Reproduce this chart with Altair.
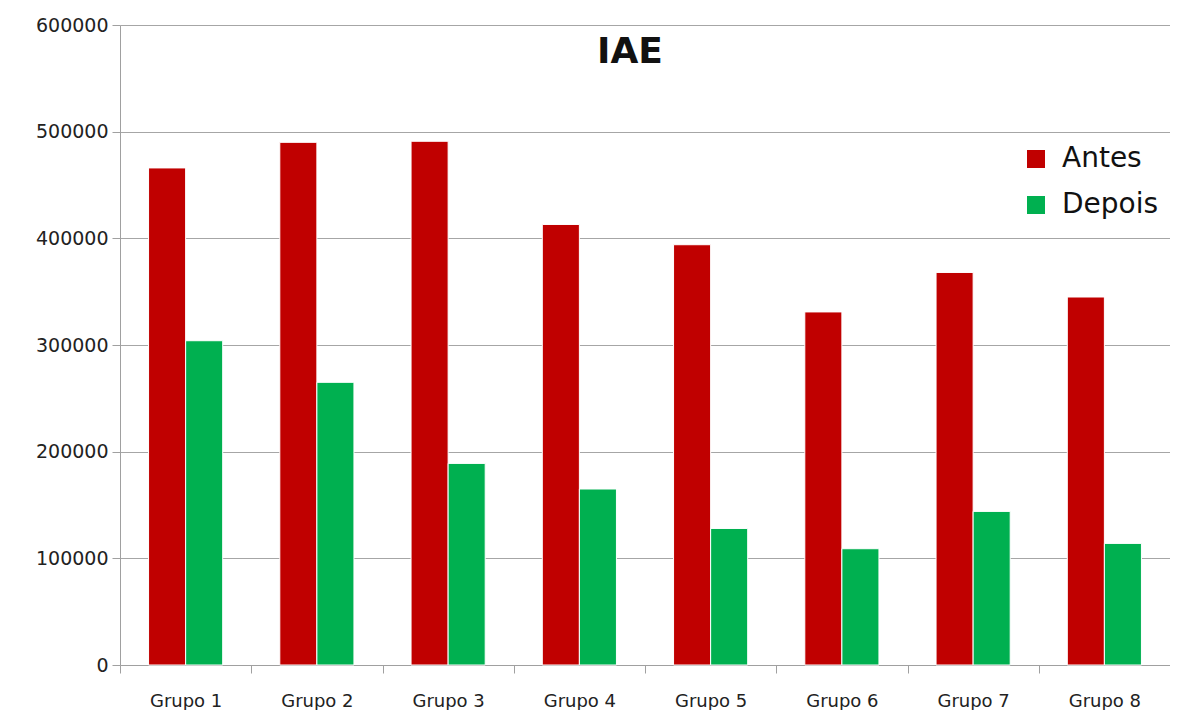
import altair as alt
import pandas as pd

grupos = ["Grupo 1", "Grupo 2", "Grupo 3", "Grupo 4", "Grupo 5", "Grupo 6", "Grupo 7", "Grupo 8"]
antes = [466000, 490000, 491000, 413000, 394000, 331000, 368000, 345000]
depois = [304000, 265000, 189000, 165000, 128000, 109000, 144000, 114000]
series = ["Antes", "Depois"]
cores = ["#C00000", "#00B050"]
y_ticks = [0, 100000, 200000, 300000, 400000, 500000, 600000]

rows = []
for g, a, d in zip(grupos, antes, depois):
    rows.append({"grupo": g, "serie": "Antes", "valor": a})
    rows.append({"grupo": g, "serie": "Depois", "valor": d})
df = pd.DataFrame(rows)

FONT = "DejaVu Sans"

bars = alt.Chart(df).mark_bar(stroke="white", strokeWidth=1).encode(
    x=alt.X("grupo:N", sort=grupos, title=None,
            scale=alt.Scale(paddingInner=0, paddingOuter=0),
            axis=alt.Axis(labelAngle=0, tickBand="extent", grid=False,
                          labelFont=FONT, labelFontSize=18, labelColor="#222222",
                          labelPadding=19, tickSize=8, tickColor="#A0A0A0",
                          domainColor="#A0A0A0")),
    xOffset=alt.XOffset("serie:N", sort=series,
                        scale=alt.Scale(paddingInner=0, paddingOuter=0.77)),
    y=alt.Y("valor:Q", title=None,
            scale=alt.Scale(domain=[0, 600000], nice=False),
            axis=alt.Axis(values=y_ticks, format="d", labelFont=FONT, labelFontSize=19,
                          labelColor="#222222", labelPadding=4, tickSize=8,
                          tickColor="#A0A0A0", domainColor="#A0A0A0",
                          gridColor="#A6A6A6", gridWidth=1)),
    color=alt.Color("serie:N", sort=series,
                    scale=alt.Scale(domain=series, range=cores),
                    legend=alt.Legend(title=None, orient="none", legendX=902, legendY=120,
                                      symbolType="square", symbolSize=324,
                                      symbolStrokeWidth=0, labelFont=FONT,
                                      labelFontSize=28, labelColor="#111111",
                                      labelOffset=12, rowPadding=18, padding=0)),
)

chart = bars.properties(
    width=1050,
    height=640,
    title=alt.TitleParams("IAE", font=FONT, fontSize=36, fontWeight="bold",
                          color="#111111", anchor="middle", frame="group",
                          offset=-55, dx=-15),
    autosize=alt.AutoSizeParams(type="none"),
    padding={"left": 112, "top": 17, "right": 0, "bottom": 45},
).configure_view(stroke=None)

chart.save("out.html", embed_options={"renderer": "svg", "actions": False})
